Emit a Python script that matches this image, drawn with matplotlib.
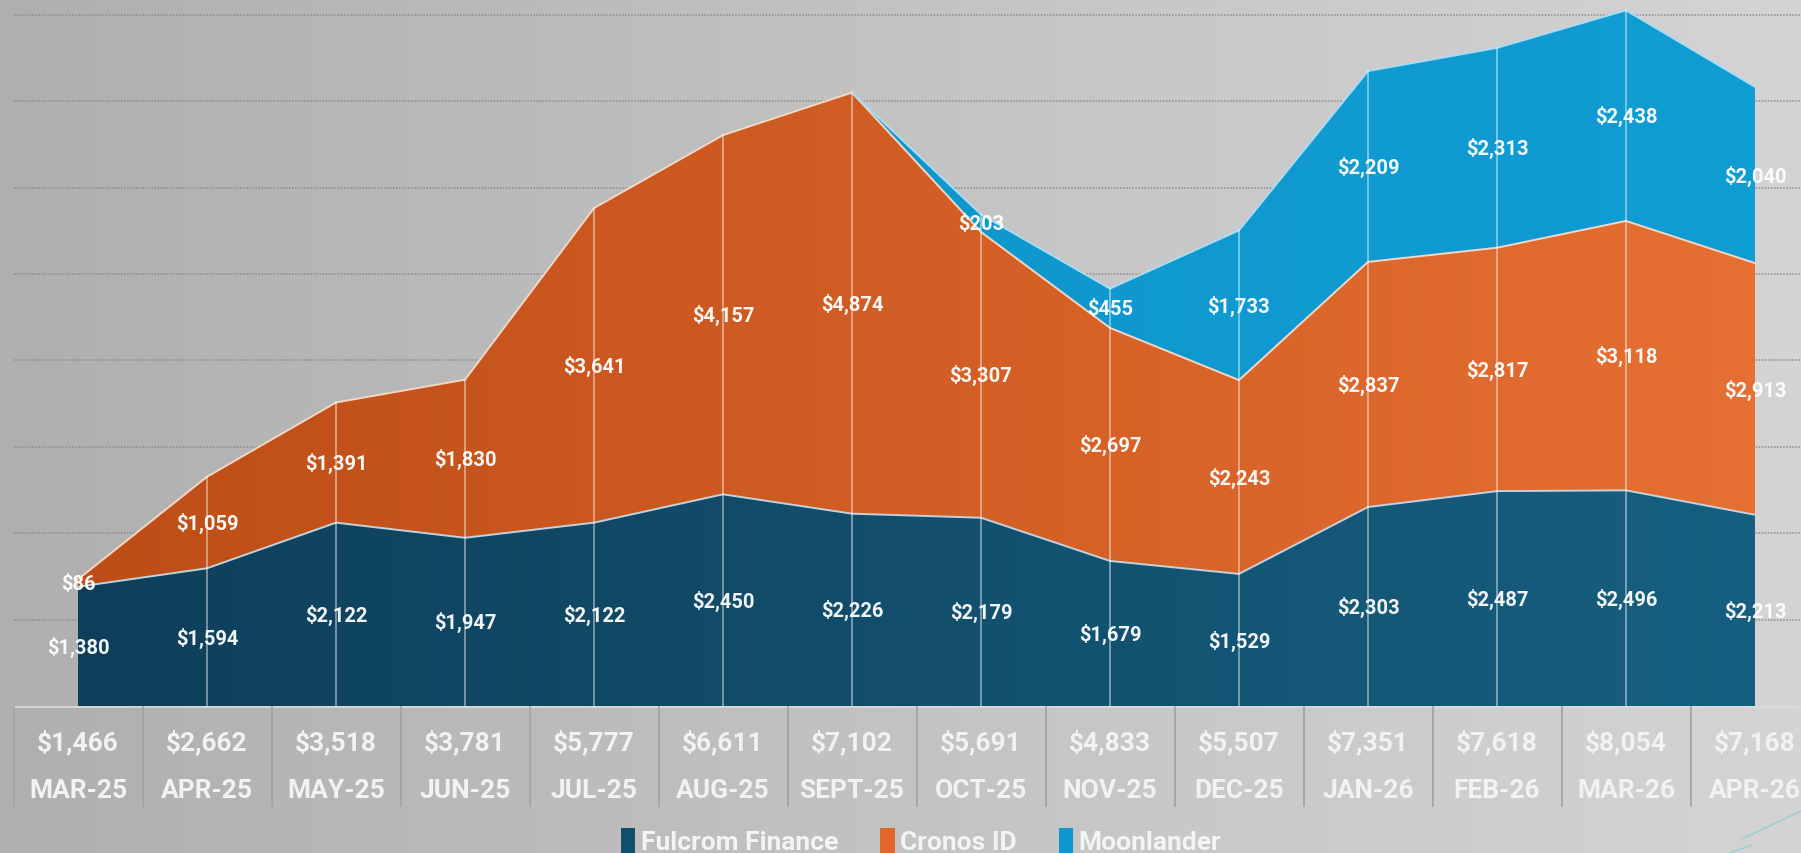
import numpy as np
import matplotlib
matplotlib.use("Agg")
import matplotlib.pyplot as plt
from matplotlib import transforms
from matplotlib.colors import LinearSegmentedColormap
from matplotlib.patches import Polygon, Patch
from matplotlib.lines import Line2D

months = ["MAR-25", "APR-25", "MAY-25", "JUN-25", "JUL-25", "AUG-25", "SEPT-25",
          "OCT-25", "NOV-25", "DEC-25", "JAN-26", "FEB-26", "MAR-26", "APR-26"]
fulcrom = [1380, 1594, 2122, 1947, 2122, 2450, 2226, 2179, 1679, 1529, 2303, 2487, 2496, 2213]
cronos = [86, 1059, 1391, 1830, 3641, 4157, 4874, 3307, 2697, 2243, 2837, 2817, 3118, 2913]
moonlander = [0, 0, 0, 0, 0, 0, 0, 203, 455, 1733, 2209, 2313, 2438, 2040]
totals = [1466, 2662, 3518, 3781, 5777, 6611, 7102, 5691, 4833, 5507, 7351, 7618, 8054, 7168]

series_names = ["Fulcrom Finance", "Cronos ID", "Moonlander"]
grad_colors = [("#0e3f5a", "#165f80"), ("#bd4d16", "#e66f33"), ("#0d92c7", "#109dd4")]
edge_colors = ["#c3d2da", "#f3d6c4", "#a9dcf2"]
legend_colors = ["#124e6c", "#e0662a", "#0f97cf"]

FONT = ["Roboto", "DejaVu Sans"]
W, H = 1801, 854
fig = plt.figure(figsize=(W / 100, H / 100), dpi=100)

# background gradient
bg = fig.add_axes([0, 0, 1, 1], zorder=-10)
bg_cmap = LinearSegmentedColormap.from_list("bg", ["#afafaf", "#c3c3c3", "#d4d4d4"])
bg.imshow(np.linspace(0, 1, 256)[None, :], aspect="auto", cmap=bg_cmap,
          extent=[0, 1, 0, 1])
bg.set_axis_off()

# main axes: baseline 707px from top, point 0 at x=78, point 13 at x=1755
step = (1755 - 78) / 13
left_px = 78 - 0.5 * step
right_px = 1755 + 0.5 * step
base_px = 707
ax = fig.add_axes([left_px / W, (H - base_px) / H, (right_px - left_px) / W, base_px / H])
ax.patch.set_alpha(0)
ymax = base_px / 0.0864
ax.set_xlim(-0.5, 13.5)
ax.set_ylim(0, ymax)

for g in range(1000, 9000, 1000):
    ax.axhline(g, color="#8c8c8c", lw=1.1, ls=(0, (1, 1)), zorder=1)

x = np.arange(len(months))
layers = [np.array(fulcrom), np.array(cronos), np.array(moonlander)]
lower = np.zeros(len(months))
tops = []
for i, vals in enumerate(layers):
    upper = lower + vals
    if i == 2:
        xs = x[6:]
        lo, up = lower[6:], upper[6:]
    else:
        xs, lo, up = x, lower, upper
    verts = np.concatenate([np.column_stack([xs, up]), np.column_stack([xs[::-1], lo[::-1]])])
    poly = Polygon(verts, closed=True, facecolor="none", edgecolor="none")
    ax.add_patch(poly)
    cmap = LinearSegmentedColormap.from_list("g%d" % i, list(grad_colors[i]))
    im = ax.imshow(np.linspace(0, 1, 256)[None, :], aspect="auto", cmap=cmap,
                   extent=[0, 13, 0, ymax], zorder=2 + i * 0.1)
    im.set_clip_path(poly)
    ax.plot(xs, up, color=edge_colors[i], lw=1.4, zorder=3)
    tops.append(upper)
    # data labels at middle of each band
    for j in range(len(months)):
        if vals[j] > 0:
            ax.text(j, lower[j] + vals[j] / 2, f"${vals[j]:,}", ha="center", va="center",
                    color="white", alpha=0.95, fontsize=14.5, fontweight="bold",
                    family=FONT, zorder=5)
    lower = upper

# vertical lines at interior points
for j in range(1, len(months) - 1):
    ax.plot([j, j], [0, tops[-1][j]], color="white", alpha=0.5, lw=1.2, zorder=4)

ax.set_xlim(-0.5, 13.5)
ax.set_ylim(0, ymax)
ax.set_axis_off()

# table below the chart
tr = transforms.blended_transform_factory(ax.transData, fig.transFigure)
tbl_top = (H - 708) / H
tbl_bot = (H - 807) / H
ax.plot([-0.5, 13.5], [tbl_top, tbl_top], transform=tr, color="#dcdcdc", lw=1.2,
        clip_on=False)
for j in range(len(months) + 1):
    ax.plot([j - 0.5, j - 0.5], [tbl_bot, tbl_top], transform=tr, color="#a4a4a4",
            lw=1.3, clip_on=False)
for j, (m, t) in enumerate(zip(months, totals)):
    ax.text(j, (H - 742) / H, f"${t:,}", transform=tr, ha="center", va="center",
            color="#f2f2f2", fontsize=19, fontweight="bold", family=FONT, clip_on=False)
    ax.text(j, (H - 791) / H, m, transform=tr, ha="center", va="center",
            color="#f2f2f2", fontsize=19, fontweight="bold", family=FONT, clip_on=False)

# legend
handles = [Patch(facecolor=c, edgecolor="none") for c in legend_colors]
leg = fig.legend(handles, series_names, loc="center", bbox_to_anchor=(921 / W, (H - 842) / H),
                 ncol=3, frameon=False, handlelength=0.55, handleheight=1.1,
                 handletextpad=0.2, columnspacing=1.6,
                 prop={"family": FONT, "weight": "bold", "size": 19})
for t in leg.get_texts():
    t.set_color("#f4f4f4")

# decorative strokes bottom right
fig.add_artist(Line2D([1742 / W, 1.0], [(H - 840) / H, (H - 812) / H], color="#9fcfd0", lw=1.2))
fig.add_artist(Line2D([1730 / W, 1752 / W], [(H - 854) / H, (H - 846) / H], color="#9fcfd0", lw=1.2))

fig.savefig("out.png", dpi=100)
